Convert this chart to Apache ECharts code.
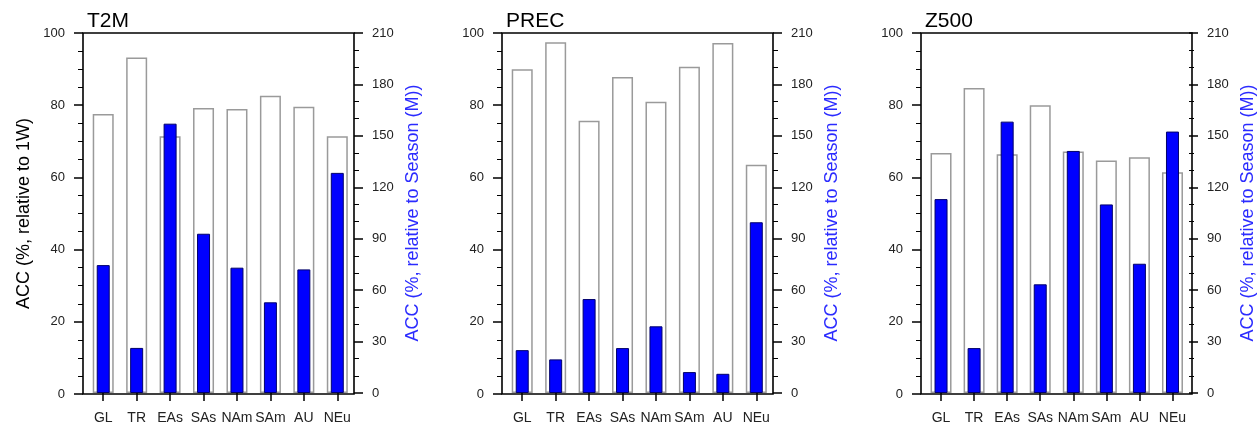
<!DOCTYPE html>
<html>
<head>
<meta charset="utf-8">
<script src="https://cdn.jsdelivr.net/npm/echarts@6/dist/echarts.min.js"></script>
<style>
html,body{margin:0;padding:0;background:#fff;}
#chart{width:1258px;height:425px;}
</style>
</head>
<body>
<div id="chart"></div>
<script>
// ---- data ----
const categories = ['GL', 'TR', 'EAs', 'SAs', 'NAm', 'SAm', 'AU', 'NEu'];
const panelTitles = ['T2M', 'PREC', 'Z500'];
const t2mWeek = [77.5, 93.2, 71.3, 79.2, 78.9, 82.6, 79.5, 71.3];
const t2mSeason = [74.6, 26.3, 157.1, 92.9, 73.1, 52.9, 72.1, 128.4];
const precWeek = [89.9, 97.4, 75.6, 87.8, 80.9, 90.6, 97.2, 63.4];
const precSeason = [25.0, 19.6, 54.8, 26.2, 38.9, 12.2, 11.2, 99.6];
const z500Week = [66.7, 84.7, 66.3, 79.9, 67.1, 64.6, 65.5, 61.3];
const z500Season = [113.1, 26.2, 158.3, 63.4, 141.2, 110.0, 75.4, 152.5];
const leftAxisName = 'ACC (%, relative to 1W)';
const rightAxisName = 'ACC (%, relative to Season (M))';

const weekSets = [t2mWeek, precWeek, z500Week];
const seasonSets = [t2mSeason, precSeason, z500Season];

// ---- layout ----
const FONT = '"Liberation Sans", Arial, Helvetica, sans-serif';
const frameLefts = [83, 502, 921];
const FRAME_W = 271, TOP = 33, H = 361, INSET = 3.5;

const grid = [], xAxis = [], yAxis = [], series = [], title = [];

frameLefts.forEach((L, p) => {
  const gF = grid.length;
  grid.push({left: L, top: TOP, width: FRAME_W, height: H, show: true,
             borderColor: '#000', borderWidth: 1.6, backgroundColor: 'transparent'});
  const gB = grid.length;
  grid.push({left: L + INSET, top: TOP, width: FRAME_W - INSET, height: H, show: false});

  title.push({text: panelTitles[p], left: L - 1, top: 6,
              textStyle: {fontFamily: FONT, fontSize: 21, fontWeight: 'normal', color: '#000'}});

  // frame grid axes
  xAxis.push({type: 'category', gridIndex: gF, data: categories, show: false});
  yAxis.push({
    type: 'value', gridIndex: gF, position: 'left', min: 0, max: 100, interval: 20,
    name: p === 0 ? leftAxisName : '', nameLocation: 'middle', nameGap: 50, nameRotate: 90,
    nameTextStyle: {fontFamily: FONT, fontSize: 18, color: '#000'},
    axisLine: {show: false},
    axisTick: {show: true, length: 9, lineStyle: {color: '#000', width: 1.5}},
    minorTick: {show: true, splitNumber: 4, length: 5, lineStyle: {color: '#000', width: 1}},
    splitLine: {show: false},
    axisLabel: {fontFamily: FONT, fontSize: 13, color: '#222', margin: 18}
  });

  // bar grid axes
  const xB = xAxis.length;
  xAxis.push({
    type: 'category', gridIndex: gB, data: categories, position: 'bottom',
    axisLine: {show: false},
    axisTick: {show: true, alignWithLabel: true, length: 8, lineStyle: {color: '#000', width: 1.5}},
    axisLabel: {fontFamily: FONT, fontSize: 14, color: '#222', margin: 18, interval: 0}
  });
  const xB2 = xAxis.length;
  xAxis.push({type: 'category', gridIndex: gB, data: categories, show: false});

  const yW = yAxis.length;
  yAxis.push({type: 'value', gridIndex: gB, min: 0, max: 100, show: false});
  const yR = yAxis.length;
  yAxis.push({
    type: 'value', gridIndex: gB, position: 'right', min: 0, max: 210, interval: 30,
    name: rightAxisName, nameLocation: 'middle', nameGap: 50, nameRotate: 90,
    nameTextStyle: {fontFamily: FONT, fontSize: 18, color: '#2b2bff'},
    axisLine: {show: false},
    axisTick: {show: true, length: 9, lineStyle: {color: '#000', width: 1.5}},
    minorTick: {show: true, splitNumber: 3, length: 5, lineStyle: {color: '#000', width: 1}},
    splitLine: {show: false},
    axisLabel: {fontFamily: FONT, fontSize: 13, color: '#222', margin: 18}
  });

  series.push({
    type: 'bar', xAxisIndex: xB, yAxisIndex: yW, data: weekSets[p], barWidth: 21,
    itemStyle: {color: '#fff', borderColor: '#9a9a9a', borderWidth: 1.5},
    silent: true, animation: false
  });
  series.push({
    type: 'bar', xAxisIndex: xB2, yAxisIndex: yR, data: seasonSets[p], barWidth: 13,
    itemStyle: {color: '#0000ff', borderColor: '#00006a', borderWidth: 1},
    silent: true, animation: false
  });
});

const chart = echarts.init(document.getElementById('chart'), null, {renderer: 'canvas'});
chart.setOption({backgroundColor: '#fff', animation: false, title, grid, xAxis, yAxis, series});
</script>
</body>
</html>
